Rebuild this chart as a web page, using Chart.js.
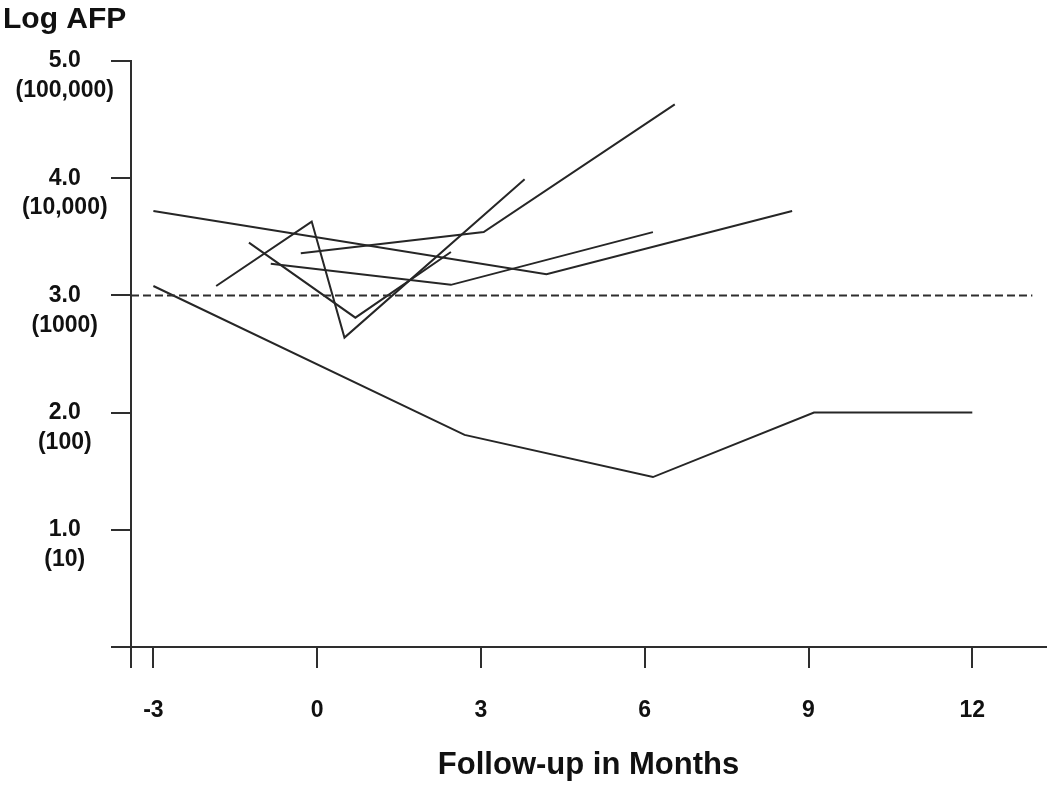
<!DOCTYPE html>
<html>
<head>
<meta charset="utf-8">
<script src="https://cdn.jsdelivr.net/npm/chart.js@4.4.1/dist/chart.umd.min.js"></script>
<style>
    html, body { margin: 0; padding: 0; background: #fff; }
    #wrap { width: 1050px; height: 795px; position: relative; }
</style>
</head>
<body>
<div id="wrap"><canvas id="afpChart"></canvas></div>
<script>
// ============ Data: log AFP per patient over follow-up ============
const p1Months = [-3.0, 2.7, 6.15, 9.1, 12.0];
const p1LogAfp = [3.08, 1.81, 1.45, 2.0, 2.0];

const p2Months = [-3.0, 4.2, 8.7];
const p2LogAfp = [3.72, 3.18, 3.72];

const p3Months = [-1.85, -0.1, 0.5, 3.8];
const p3LogAfp = [3.08, 3.63, 2.64, 3.99];

const p4Months = [-1.25, 0.7, 2.45];
const p4LogAfp = [3.45, 2.81, 3.37];

const p5Months = [-0.85, 2.45, 6.15];
const p5LogAfp = [3.27, 3.09, 3.54];

const p6Months = [-0.3, 3.05, 6.55];
const p6LogAfp = [3.36, 3.54, 4.63];

// 1000 ng/mL cutoff (log 3.0)
const cutoffMonths = [-3.41, 13.1];
const cutoffLogAfp = [3.0, 3.0];

// ============ Tick labels ============
const xTickValues = [-3, 0, 3, 6, 9, 12];
const xTickLabels = ['-3', '0', '3', '6', '9', '12'];
const yTickValues = [1, 2, 3, 4, 5];
const yTickLabels = [
    ['1.0', '(10)'],
    ['2.0', '(100)'],
    ['3.0', '(1000)'],
    ['4.0', '(10,000)'],
    ['5.0', '(100,000)']
];

// ============ Style ============
const lineColor = '#262626';
const axisColor = '#2e2e2e';
const fontFamily = "'Liberation Sans', Arial, sans-serif";

Chart.defaults.font.family = fontFamily;
Chart.defaults.color = '#111';

function toPoints(xs, ys) {
    return xs.map((x, i) => ({ x, y: ys[i] }));
}

function patientLine(label, xs, ys) {
    return {
        label,
        data: toPoints(xs, ys),
        borderColor: lineColor,
        borderWidth: 2,
        pointRadius: 0,
        tension: 0,
        fill: false
    };
}

const datasets = [
    {
        label: 'cutoff',
        data: toPoints(cutoffMonths, cutoffLogAfp),
        borderColor: axisColor,
        borderWidth: 2,
        borderDash: [8, 4],
        pointRadius: 0,
        fill: false
    },
    patientLine('p1', p1Months, p1LogAfp),
    patientLine('p2', p2Months, p2LogAfp),
    patientLine('p3', p3Months, p3LogAfp),
    patientLine('p4', p4Months, p4LogAfp),
    patientLine('p5', p5Months, p5LogAfp),
    patientLine('p6', p6Months, p6LogAfp)
];

new Chart(document.getElementById('afpChart'), {
    type: 'line',
    data: { datasets },
    options: {
        responsive: true,
        maintainAspectRatio: false,
        animation: false,
        layout: { padding: { left: 3, right: 4, top: 0, bottom: 0 } },
        plugins: {
            legend: { display: false },
            tooltip: { enabled: false },
            title: {
                display: true,
                text: 'Log AFP',
                align: 'start',
                color: '#111',
                font: { size: 30, weight: 'bold', lineHeight: 1.2 },
                padding: { top: 2, bottom: 23 }
            }
        },
        scales: {
            x: {
                type: 'linear',
                min: -3.41,
                max: 13.35,
                afterBuildTicks: scale => {
                    // extra tick at the axis origin gives the crossing stub
                    scale.ticks = [scale.min, ...xTickValues].map(v => ({ value: v }));
                },
                afterFit: scale => { scale.height = 148; },
                ticks: {
                    autoSkip: false,
                    maxRotation: 0,
                    padding: 29,
                    color: '#111',
                    font: { size: 23, weight: 'bold' },
                    callback: value => {
                        const i = xTickValues.indexOf(value);
                        return i < 0 ? '' : xTickLabels[i];
                    }
                },
                grid: {
                    drawOnChartArea: false,
                    drawTicks: true,
                    tickLength: 21,
                    color: axisColor,
                    lineWidth: 2
                },
                border: { display: true, color: axisColor, width: 2 },
                title: {
                    display: true,
                    text: 'Follow-up in Months',
                    color: '#111',
                    font: { size: 31, weight: 'bold', lineHeight: 1.2 },
                    padding: { top: 0, bottom: 11 }
                }
            },
            y: {
                type: 'linear',
                min: 0,
                max: 5,
                afterBuildTicks: scale => {
                    scale.ticks = [0, ...yTickValues].map(v => ({ value: v }));
                },
                afterFit: scale => { scale.width = 128; },
                ticks: {
                    autoSkip: false,
                    crossAlign: 'center',
                    padding: -3,
                    color: '#111',
                    font: { size: 23, weight: 'bold', lineHeight: 1.3 },
                    callback: value => {
                        const i = yTickValues.indexOf(value);
                        // blank first line keeps the log value level with its tick
                        return i < 0 ? '' : ['', ...yTickLabels[i]];
                    }
                },
                grid: {
                    drawOnChartArea: false,
                    drawTicks: true,
                    tickLength: 20,
                    color: axisColor,
                    lineWidth: 2
                },
                border: { display: true, color: axisColor, width: 2 }
            }
        }
    }
});
</script>
</body>
</html>
